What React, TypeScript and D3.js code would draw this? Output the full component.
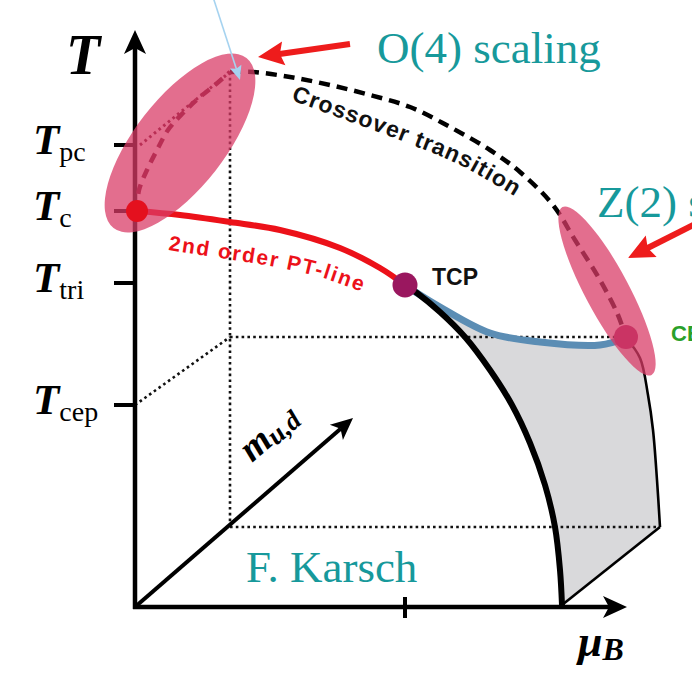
import React from 'react';
import * as d3 from 'd3';

type P = [number, number];

// Chart units: mu_B runs 0..492 along the floor, T runs 0..577 up the wall.
const MU_MAX = 492;
const T_MAX = 577;

const T_TICKS = [
  { sub: 'pc', t: 462 },
  { sub: 'c', t: 396 },
  { sub: 'tri', t: 324 },
  { sub: 'cep', t: 202 },
];
const MU_TICK = 270;

const SECOND_ORDER_LINE: P[] = [[2, 396], [45, 392], [95, 385], [145, 377], [205, 359], [245, 339], [270, 322]];
const FIRST_ORDER_LINE: P[] = [[270, 322], [282, 314], [305, 295], [330, 270], [355, 237], [377, 202], [395, 164], [410, 122], [420, 80], [425, 37], [427, 2]];
const WING_LINE: P[] = [[270, 322], [282, 314], [305, 300], [355, 274], [405, 265], [465, 262], [491, 269]];
const CEP_LINE: P[] = [[491, 269], [505, 249], [513, 212], [518, 177], [522, 127], [525, 80]];
const WING_FLOOR: P[] = [[525, 80], [427, 2]];
const CROSSOVER: P[] = [[95, 535], [118, 535], [155, 530], [195, 522], [235, 512], [275, 500], [315, 480], [355, 457], [385, 435], [418, 402], [440, 367], [465, 327], [483, 292], [491, 269]];
const CHIRAL_CROSSOVER: P[] = [[2, 396], [4, 417], [12, 437], [22, 457], [33, 477], [48, 494], [65, 510], [80, 522], [95, 535]];
const PC_GUIDE: P[] = [[5, 462], [95, 535]];
const DOTTED_GUIDES: P[][] = [
  [[95, 535], [95, 80]],
  [[95, 80], [525, 80]],
  [[95, 270], [491, 270]],
  [[0, 202], [95, 270]],
];
const MASS_AXIS: P[] = [[0, 0], [218, 189]];
const TC_POINT: P = [2, 396];
const TCP_POINT: P = [270, 322];
const CEP_POINT: P = [491, 270];

const CROSSOVER_LABEL_PATH: P[] = [[156, 507], [210, 487], [272, 464], [325, 442], [392, 403]];
const PT_LABEL_PATH: P[] = [[33, 357], [85, 349], [135, 341], [185, 330], [235, 312]];

const SCALING_WINDOWS = [
  { c: [45, 464] as P, a: 108, b: 45, angle: -52 },
  { c: [472, 316] as P, a: 95, b: 22, angle: 62 },
];

const POINTERS = [
  { from: [215, 563] as P, to: [123, 550] as P, color: '#ee1c1c', w: 6, head: 26, half: 12 },
  { from: [562, 384] as P, to: [493, 349] as P, color: '#ee1c1c', w: 6, head: 26, half: 12 },
  { from: [78, 610] as P, to: [105, 527] as P, color: '#a6d3f0', w: 1.6, head: 14, half: 6 },
];

const x = d3.scaleLinear().domain([0, MU_MAX]).range([135, 627]);
const y = d3.scaleLinear().domain([0, T_MAX]).range([607, 30]);

const smooth = d3
  .line<P>()
  .x((d) => x(d[0]))
  .y((d) => y(d[1]))
  .curve(d3.curveCatmullRom.alpha(0.5));
const straight = d3
  .line<P>()
  .x((d) => x(d[0]))
  .y((d) => y(d[1]));

function headPath(from: P, tip: P, len: number, half: number, notch = 0.25): string {
  const dx = tip[0] - from[0];
  const dy = tip[1] - from[1];
  const L = Math.hypot(dx, dy);
  const ux = dx / L;
  const uy = dy / L;
  const nx = -uy;
  const ny = ux;
  const bx = tip[0] - ux * len;
  const by = tip[1] - uy * len;
  const mx = tip[0] - ux * len * (1 - notch);
  const my = tip[1] - uy * len * (1 - notch);
  return `M${tip[0]},${tip[1]}L${bx + nx * half},${by + ny * half}L${mx},${my}L${bx - nx * half},${by - ny * half}Z`;
}

function shaftEnd(from: P, tip: P, back: number): P {
  const dx = tip[0] - from[0];
  const dy = tip[1] - from[1];
  const L = Math.hypot(dx, dy);
  return [tip[0] - (dx / L) * back, tip[1] - (dy / L) * back];
}

const px = (p: P): P => [x(p[0]), y(p[1])];

export default function App() {
  const wingFill =
    smooth(FIRST_ORDER_LINE)! +
    straight(WING_FLOOR)!.replace(/^M/, 'L') +
    smooth([...CEP_LINE].reverse())!.replace(/^M/, 'L') +
    smooth([...WING_LINE].reverse())!.replace(/^M/, 'L') +
    'Z';

  const origin = px([0, 0]);
  const tTip = px([0, T_MAX]);
  const muTip = px([MU_MAX, 0]);
  const massFrom = px(MASS_AXIS[0]);
  const massTip = px(MASS_AXIS[1]);

  const mathFont = "'Liberation Serif', 'Times New Roman', serif";
  const sansFont = "'Liberation Sans', Arial, sans-serif";
  const teal = '#17999b';

  return (
    <svg
      width={692}
      height={677}
      viewBox="0 0 692 677"
      style={{ position: 'absolute', left: 0, top: 0, display: 'block', background: '#fff' }}
    >
      <defs>
        <path id="crossover-label-path" d={smooth(CROSSOVER_LABEL_PATH)!} />
        <path id="pt-label-path" d={smooth(PT_LABEL_PATH)!} />
      </defs>

      {/* shaded first-order wing */}
      <path d={wingFill} fill="#d9d9db" stroke="none" />

      {/* dotted construction lines */}
      {DOTTED_GUIDES.map((g, i) => (
        <path key={i} d={straight(g)!} fill="none" stroke="#111" strokeWidth={2.6} strokeDasharray="2.6 3.2" />
      ))}

      {/* axes */}
      <line x1={origin[0]} y1={origin[1] + 2} x2={tTip[0]} y2={tTip[1] + 18} stroke="#000" strokeWidth={4.5} />
      <path d={headPath([tTip[0], origin[1]], tTip, 24, 11)} fill="#000" />
      <line x1={origin[0] - 2} y1={origin[1]} x2={muTip[0] - 18} y2={muTip[1]} stroke="#000" strokeWidth={4.5} />
      <path d={headPath([origin[0], muTip[1]], muTip, 24, 11)} fill="#000" />
      <line
        x1={massFrom[0]}
        y1={massFrom[1]}
        x2={shaftEnd(massFrom, massTip, 16)[0]}
        y2={shaftEnd(massFrom, massTip, 16)[1]}
        stroke="#000"
        strokeWidth={4}
      />
      <path d={headPath(massFrom, massTip, 22, 10)} fill="#000" />

      {/* ticks */}
      {T_TICKS.map((tk) => (
        <line key={tk.sub} x1={114} x2={x(0)} y1={y(tk.t)} y2={y(tk.t)} stroke="#000" strokeWidth={4} />
      ))}
      <line x1={x(MU_TICK)} x2={x(MU_TICK)} y1={origin[1] - 10} y2={origin[1] + 11} stroke="#000" strokeWidth={4} />

      {/* transition lines */}
      <path d={smooth(CEP_LINE)!} fill="none" stroke="#000" strokeWidth={2.6} />
      <path d={straight(WING_FLOOR)!} fill="none" stroke="#000" strokeWidth={2.6} />
      <path d={smooth(WING_LINE)!} fill="none" stroke="#5b8db4" strokeWidth={7} strokeLinecap="round" />
      <path d={smooth(FIRST_ORDER_LINE)!} fill="none" stroke="#000" strokeWidth={6} />
      <path d={smooth(SECOND_ORDER_LINE)!} fill="none" stroke="#ec1119" strokeWidth={6} />
      <path d={smooth(CROSSOVER)!} fill="none" stroke="#000" strokeWidth={4.5} strokeDasharray="11 7" />
      <path d={smooth(CHIRAL_CROSSOVER)!} fill="none" stroke="#5e0a22" strokeWidth={4.5} strokeDasharray="10 7" />
      <path d={straight(PC_GUIDE)!} fill="none" stroke="#5e0a22" strokeWidth={3} strokeDasharray="2.6 3.4" />

      {/* CEP marker sits beneath the Z(2) window */}
      <circle cx={x(CEP_POINT[0])} cy={y(CEP_POINT[1])} r={12} fill="#a0205e" />

      {/* scaling windows */}
      {SCALING_WINDOWS.map((w, i) => (
        <ellipse
          key={i}
          cx={0}
          cy={0}
          rx={w.a}
          ry={w.b}
          transform={`translate(${x(w.c[0])},${y(w.c[1])}) rotate(${w.angle})`}
          fill="#d93c66"
          fillOpacity={0.74}
        />
      ))}

      {/* critical points */}
      <circle cx={x(TC_POINT[0])} cy={y(TC_POINT[1])} r={11} fill="#e4101e" />
      <circle cx={x(TCP_POINT[0])} cy={y(TCP_POINT[1])} r={12.5} fill="#9a175f" />

      {/* curve labels */}
      <text fontFamily={sansFont} fontWeight="bold" fontSize={23} fill="#111">
        <textPath href="#crossover-label-path" textLength={244} lengthAdjust="spacing">
          Crossover transition
        </textPath>
      </text>
      <text fontFamily={sansFont} fontWeight="bold" fontSize={21} fill="#ec1119">
        <textPath href="#pt-label-path" textLength={198} lengthAdjust="spacing">
          2nd order PT-line
        </textPath>
      </text>
      <text x={432} y={285} fontFamily={sansFont} fontWeight="bold" fontSize={23} fill="#111">
        TCP
      </text>
      <text x={671} y={341} fontFamily={sansFont} fontWeight="bold" fontSize={22} fill="#2aa02a">
        CEP
      </text>

      {/* axis labels */}
      <text x={66} y={74} fontFamily={mathFont} fontStyle="italic" fontWeight="bold" fontSize={56} fill="#000">
        T
      </text>
      {T_TICKS.map((tk) => (
        <text
          key={tk.sub}
          x={33}
          y={y(tk.t) + 9}
          fontFamily={mathFont}
          fontStyle="italic"
          fontWeight="bold"
          fontSize={43}
          fill="#000"
        >
          T
          <tspan fontStyle="normal" fontWeight="normal" fontSize={28} dy={7}>
            {tk.sub}
          </tspan>
        </text>
      ))}
      <text x={578} y={656} fontFamily={mathFont} fontStyle="italic" fontWeight="bold" fontSize={44} fill="#000">
        μ
        <tspan fontSize={32} dy={4}>
          B
        </tspan>
      </text>
      <text
        transform={`translate(252,463) rotate(-40.9)`}
        fontFamily={mathFont}
        fontStyle="italic"
        fontWeight="bold"
        fontSize={38}
        fill="#000"
      >
        m
        <tspan fontSize={27} dy={3}>
          u,d
        </tspan>
      </text>

      {/* pointer arrows */}
      {POINTERS.map((a, i) => {
        const f = px(a.from);
        const t = px(a.to);
        const e = shaftEnd(f, t, a.head * 0.7);
        return (
          <g key={i}>
            <line x1={f[0]} y1={f[1]} x2={e[0]} y2={e[1]} stroke={a.color} strokeWidth={a.w} />
            <path d={headPath(f, t, a.head, a.half, 0.15)} fill={a.color} />
          </g>
        );
      })}

      {/* annotations */}
      <text x={377} y={63} fontFamily={mathFont} fontSize={45} fill={teal}>
        O(4) scaling
      </text>
      <text x={597} y={217} fontFamily={mathFont} fontSize={45} fill={teal}>
        Z(2) scaling
      </text>
      <text x={246} y={582} fontFamily={mathFont} fontSize={45} fill={teal}>
        F. Karsch
      </text>
    </svg>
  );
}
